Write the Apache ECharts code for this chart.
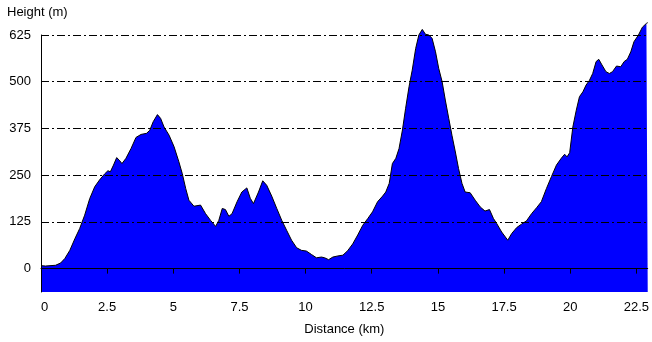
<!DOCTYPE html>
<html>
<head>
<meta charset="utf-8">
<script src="https://cdn.jsdelivr.net/npm/echarts@6/dist/echarts.min.js"></script>
<style>
html,body{margin:0;padding:0;background:#fff;}
#c{width:652px;height:342px;}
</style>
</head>
<body>
<div id="c"></div>
<script>
const distanceKm = [0,0.05,0.17,0.55,0.74,0.9,1.09,1.28,1.46,1.65,1.84,2.03,2.21,2.4,2.53,2.62,2.74,2.86,2.96,3.06,3.21,3.4,3.59,3.78,3.99,4.11,4.24,4.4,4.52,4.65,4.84,5.03,5.21,5.34,5.47,5.59,5.78,6.03,6.22,6.41,6.6,6.72,6.85,6.97,7.1,7.22,7.41,7.59,7.78,7.91,8.03,8.22,8.38,8.53,8.72,8.91,9.1,9.28,9.47,9.66,9.84,10.03,10.22,10.41,10.6,10.72,10.87,11.03,11.22,11.41,11.59,11.78,11.97,12.16,12.35,12.53,12.72,12.91,13.03,13.16,13.28,13.41,13.53,13.66,13.78,13.91,14.03,14.16,14.28,14.41,14.53,14.66,14.78,14.91,15.03,15.16,15.28,15.41,15.53,15.66,15.78,15.91,16.03,16.22,16.41,16.6,16.78,16.95,17.1,17.22,17.41,17.64,17.79,17.98,18.16,18.35,18.54,18.73,18.91,19.1,19.29,19.48,19.66,19.79,19.88,19.98,20.1,20.23,20.35,20.48,20.6,20.73,20.85,20.98,21.08,21.2,21.35,21.48,21.6,21.75,21.91,22.04,22.16,22.29,22.41,22.58,22.73,22.88,22.93];
const heightM = [8,10,7,9,15,27,49,80,107,143,187,219,237,253,262,259,277,297,290,281,295,321,351,359,362,370,393,412,402,379,357,326,286,254,214,183,167,170,147,129,113,129,161,158,140,147,179,205,216,188,174,205,235,223,194,161,129,103,76,56,49,47,38,29,31,29,24,31,34,36,48,66,90,116,134,152,179,194,205,228,281,295,321,371,429,487,531,589,625,640,627,625,616,580,536,500,451,402,357,312,268,228,205,203,183,165,154,158,134,121,98,76,94,110,119,128,147,163,179,214,246,277,295,306,299,310,379,424,460,473,491,504,522,554,560,545,527,522,527,542,540,554,560,580,607,625,646,656,658];
const yTicks = [0,125,250,375,500,625];
const xTickStep = 2.5;

const font = '"Liberation Sans", Arial, sans-serif';
const chart = echarts.init(document.getElementById('c'), null, {renderer:'canvas'});
chart.setOption({
  animation:false,
  backgroundColor:'#ffffff',
  graphic:[{type:'text', left:7, top:6, style:{text:'Height (m)', font:'13px '+font, fill:'#000'}}],
  grid:{left:41, right:0, top:35, bottom:50, containLabel:false},
  xAxis:{
    type:'value', min:0, max:22.93, interval:xTickStep, z:5,
    name:'Distance (km)', nameLocation:'middle', nameGap:31,
    nameTextStyle:{fontFamily:font, fontSize:13, color:'#000'},
    axisLine:{show:true, lineStyle:{color:'#000', width:1}},
    axisTick:{show:true, length:5, lineStyle:{color:'#000'}},
    axisLabel:{fontFamily:font, fontSize:13, color:'#000', margin:9, showMaxLabel:false, alignMinLabel:'left'},
    splitLine:{show:false}
  },
  yAxis:{
    type:'value', min:-62.5, max:625, z:5,
    axisLine:{show:true, lineStyle:{color:'#000', width:1}},
    axisTick:{show:false, customValues:yTicks},
    axisLabel:{fontFamily:font, fontSize:13, color:'#000', margin:10, customValues:yTicks},
    splitLine:{show:true, lineStyle:{color:'#000', width:1, type:[8,3,2,3]}}
  },
  series:[{
    type:'line', clip:false, z:2,
    data: distanceKm.map((d,i)=>[d, heightM[i]]),
    showSymbol:false, symbol:'none',
    lineStyle:{color:'#000', width:1},
    areaStyle:{color:'#0000ff', opacity:1, origin:'start'}
  }]
});
</script>
</body>
</html>
